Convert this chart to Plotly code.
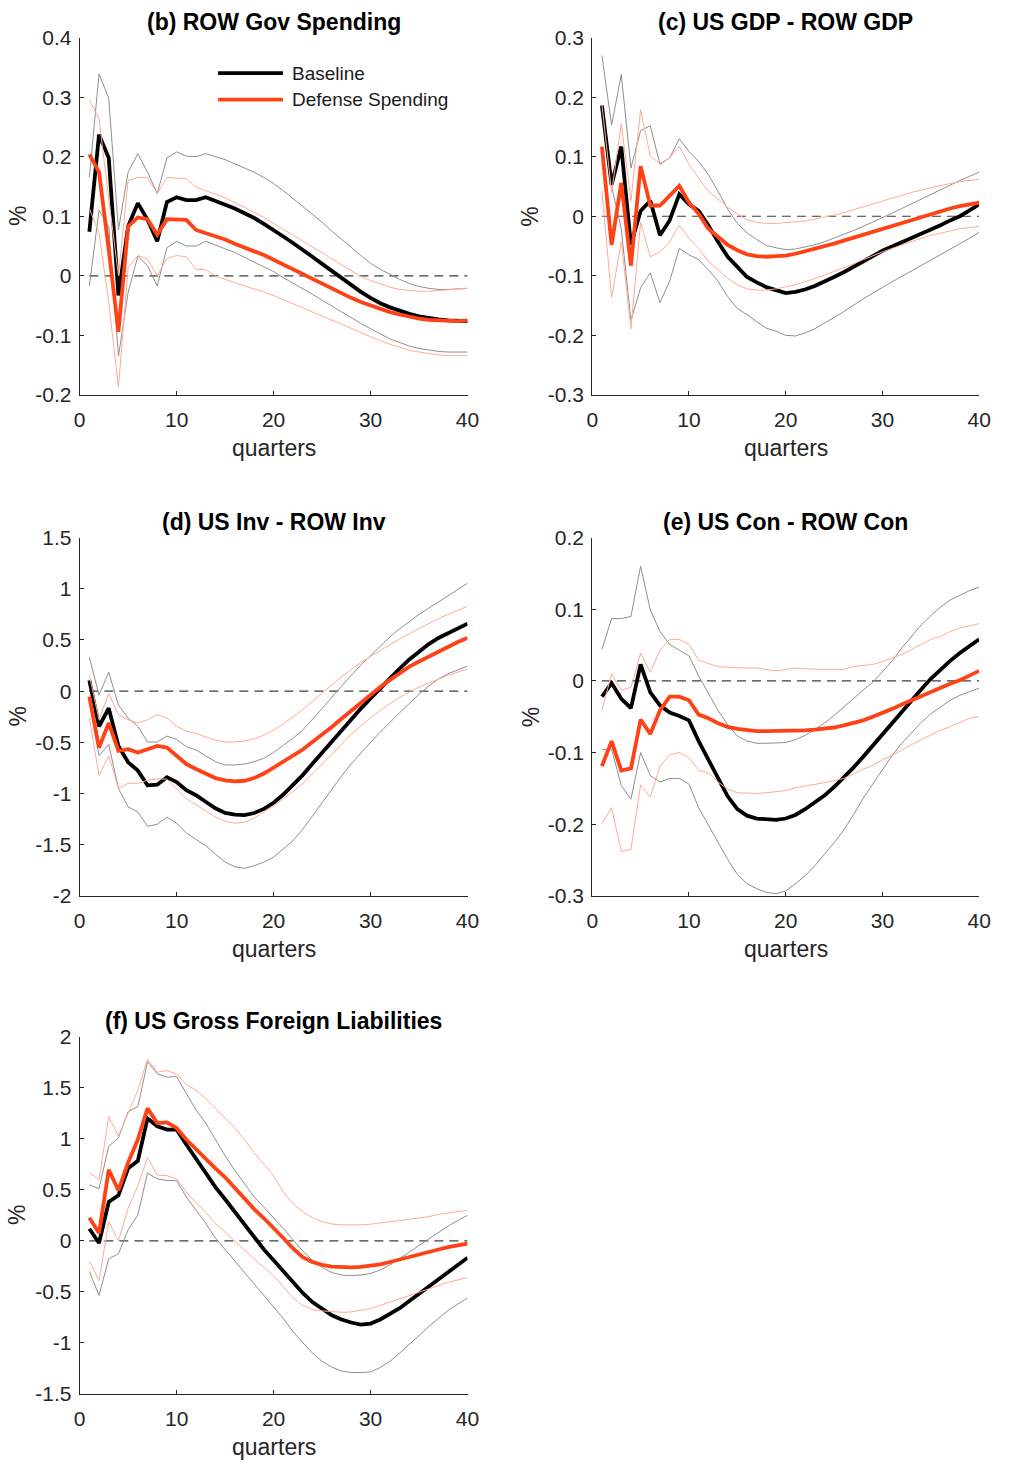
import plotly.graph_objects as go

# Target page size and the browser's default body margin around the figure
PAGE_W, PAGE_H = 1016, 1482
PAD = 8
W, H = PAGE_W - 2 * PAD, PAGE_H - 2 * PAD
FONT = "Liberation Sans, Arial, Helvetica, sans-serif"
AXIS_COLOR = "#262626"

quarters = list(range(1, 41))

# ---- (b) ROW Gov Spending ----
base_b = [0.074, 0.237, 0.198, -0.033, 0.083, 0.122, 0.094, 0.058, 0.124, 0.132,
          0.127, 0.127, 0.132, 0.126, 0.12, 0.113, 0.105, 0.097, 0.087, 0.077,
          0.066, 0.055, 0.044, 0.032, 0.02, 0.008, -0.004, -0.016, -0.027, -0.037,
          -0.046, -0.053, -0.059, -0.064, -0.068, -0.071, -0.073, -0.075, -0.076, -0.076]
base_lo_b = [-0.017, 0.11, 0.083, -0.135, -0.028, 0.033, 0.017, -0.017, 0.047, 0.058,
             0.05, 0.05, 0.058, 0.052, 0.046, 0.039, 0.031, 0.023, 0.016, 0.007,
             -0.003, -0.012, -0.022, -0.031, -0.041, -0.051, -0.061, -0.07, -0.08, -0.089,
             -0.098, -0.106, -0.112, -0.118, -0.122, -0.125, -0.127, -0.128, -0.128, -0.128]
base_hi_b = [0.165, 0.339, 0.298, 0.077, 0.174, 0.205, 0.174, 0.138, 0.198, 0.208,
             0.201, 0.2, 0.205, 0.2, 0.195, 0.188, 0.181, 0.174, 0.165, 0.155,
             0.143, 0.13, 0.117, 0.103, 0.09, 0.075, 0.062, 0.048, 0.034, 0.021,
             0.011, 0.002, -0.006, -0.013, -0.018, -0.021, -0.023, -0.023, -0.022, -0.021]
def_b = [0.204, 0.174, 0.044, -0.094, 0.083, 0.098, 0.095, 0.069, 0.095, 0.095,
         0.094, 0.077, 0.072, 0.066, 0.061, 0.054, 0.047, 0.041, 0.035, 0.027,
         0.019, 0.011, 0.003, -0.006, -0.014, -0.022, -0.03, -0.037, -0.044, -0.05,
         -0.056, -0.061, -0.065, -0.069, -0.072, -0.074, -0.075, -0.076, -0.076, -0.075]
def_lo_b = [0.113, 0.072, -0.044, -0.187, 0.014, 0.034, 0.028, 0.0, 0.029, 0.034,
            0.032, 0.011, 0.01, 0.0, -0.006, -0.012, -0.017, -0.022, -0.027, -0.033,
            -0.04, -0.047, -0.054, -0.061, -0.068, -0.075, -0.082, -0.089, -0.096, -0.103,
            -0.109, -0.115, -0.12, -0.125, -0.128, -0.131, -0.133, -0.134, -0.134, -0.134]
def_hi_b = [0.295, 0.264, 0.13, 0.0, 0.16, 0.165, 0.165, 0.138, 0.165, 0.164,
            0.163, 0.149, 0.143, 0.138, 0.131, 0.123, 0.115, 0.107, 0.098, 0.088,
            0.078, 0.068, 0.058, 0.048, 0.038, 0.028, 0.018, 0.008, -0.001, -0.008,
            -0.014, -0.019, -0.023, -0.025, -0.026, -0.026, -0.025, -0.024, -0.022, -0.021]

# ---- (c) US GDP - ROW GDP ----
base_c = [0.186, 0.053, 0.117, -0.048, 0.009, 0.026, -0.032, -0.007, 0.037, 0.02,
          0.009, -0.015, -0.043, -0.068, -0.085, -0.102, -0.111, -0.119, -0.124, -0.129,
          -0.127, -0.123, -0.117, -0.11, -0.102, -0.094, -0.085, -0.076, -0.067, -0.058,
          -0.051, -0.044, -0.036, -0.029, -0.022, -0.015, -0.007, 0.0, 0.01, 0.02]
base_lo_c = [0.18, 0.05, -0.021, -0.175, -0.12, -0.095, -0.145, -0.109, -0.054, -0.065,
             -0.073, -0.09, -0.109, -0.135, -0.155, -0.165, -0.177, -0.188, -0.193, -0.2,
             -0.201, -0.196, -0.189, -0.18, -0.17, -0.16, -0.149, -0.139, -0.129, -0.119,
             -0.11, -0.101, -0.092, -0.083, -0.074, -0.065, -0.056, -0.047, -0.037, -0.027]
base_hi_c = [0.27, 0.153, 0.238, 0.081, 0.144, 0.152, 0.087, 0.098, 0.13, 0.109,
             0.092, 0.07, 0.042, 0.012, -0.012, -0.028, -0.039, -0.049, -0.053, -0.056,
             -0.055, -0.052, -0.048, -0.043, -0.037, -0.031, -0.024, -0.017, -0.01, -0.003,
             0.005, 0.013, 0.021, 0.029, 0.037, 0.045, 0.053, 0.06, 0.067, 0.074]
def_c = [0.117, -0.048, 0.056, -0.083, 0.084, 0.018, 0.018, 0.034, 0.051, 0.023,
         0.004, -0.021, -0.035, -0.048, -0.057, -0.064, -0.067, -0.068, -0.067, -0.066,
         -0.063, -0.059, -0.055, -0.051, -0.046, -0.041, -0.036, -0.031, -0.026, -0.021,
         -0.016, -0.011, -0.006, -0.001, 0.004, 0.009, 0.013, 0.017, 0.02, 0.023]
def_lo_c = [0.042, -0.137, -0.043, -0.189, -0.01, -0.068, -0.06, -0.043, -0.015, -0.037,
            -0.054, -0.076, -0.09, -0.104, -0.115, -0.122, -0.124, -0.124, -0.122, -0.119,
            -0.115, -0.11, -0.105, -0.099, -0.093, -0.087, -0.08, -0.073, -0.066, -0.06,
            -0.054, -0.048, -0.042, -0.037, -0.032, -0.028, -0.024, -0.021, -0.019, -0.017]
def_hi_c = [0.188, 0.04, 0.155, 0.026, 0.179, 0.1, 0.089, 0.098, 0.117, 0.087,
            0.064, 0.042, 0.029, 0.015, 0.004, -0.006, -0.01, -0.012, -0.012, -0.011,
            -0.01, -0.008, -0.005, -0.002, 0.002, 0.006, 0.011, 0.016, 0.021, 0.026,
            0.031, 0.035, 0.04, 0.044, 0.048, 0.052, 0.055, 0.058, 0.06, 0.062]

# ---- (d) US Inv - ROW Inv ----
base_d = [0.106, -0.343, -0.167, -0.535, -0.695, -0.776, -0.92, -0.913, -0.84, -0.888,
          -0.968, -1.016, -1.08, -1.144, -1.19, -1.205, -1.21, -1.19, -1.15, -1.09,
          -1.01, -0.92, -0.82, -0.71, -0.6, -0.49, -0.38, -0.27, -0.17, -0.07,
          0.03, 0.13, 0.22, 0.31, 0.39, 0.46, 0.52, 0.57, 0.62, 0.66]
base_lo_d = [-0.1, -0.63, -0.52, -0.95, -1.13, -1.18, -1.32, -1.3, -1.23, -1.29,
             -1.385, -1.45, -1.51, -1.59, -1.67, -1.715, -1.73, -1.705, -1.67, -1.62,
             -1.54, -1.46, -1.35, -1.22, -1.08, -0.95, -0.83, -0.71, -0.6, -0.5,
             -0.4, -0.3, -0.21, -0.12, -0.03, 0.05, 0.12, 0.17, 0.21, 0.245]
base_hi_d = [0.33, -0.038, 0.186, -0.135, -0.263, -0.343, -0.497, -0.497, -0.439, -0.471,
             -0.542, -0.574, -0.631, -0.689, -0.721, -0.721, -0.712, -0.689, -0.655, -0.6,
             -0.53, -0.46, -0.38, -0.28, -0.17, -0.06, 0.05, 0.155, 0.255, 0.35,
             0.44, 0.53, 0.61, 0.68, 0.75, 0.81, 0.87, 0.93, 0.99, 1.055]
def_d = [-0.054, -0.551, -0.311, -0.583, -0.567, -0.6, -0.567, -0.535, -0.551, -0.631,
         -0.712, -0.76, -0.808, -0.849, -0.872, -0.881, -0.875, -0.849, -0.805, -0.75,
         -0.69, -0.63, -0.57, -0.5, -0.425, -0.35, -0.27, -0.19, -0.11, -0.035,
         0.04, 0.11, 0.18, 0.24, 0.29, 0.34, 0.39, 0.43, 0.48, 0.52]
def_lo_d = [-0.263, -0.824, -0.63, -0.95, -0.9, -0.9, -0.87, -0.855, -0.86, -0.96,
            -1.05, -1.11, -1.17, -1.23, -1.27, -1.29, -1.28, -1.24, -1.18, -1.12,
            -1.05, -0.98, -0.9, -0.81, -0.71, -0.62, -0.52, -0.42, -0.34, -0.26,
            -0.19, -0.12, -0.06, -0.01, 0.04, 0.08, 0.12, 0.155, 0.185, 0.215]
def_hi_d = [0.154, -0.28, -0.022, -0.23, -0.28, -0.31, -0.28, -0.23, -0.263, -0.343,
            -0.39, -0.413, -0.446, -0.478, -0.497, -0.497, -0.487, -0.465, -0.43, -0.38,
            -0.32, -0.25, -0.18, -0.1, -0.02, 0.06, 0.14, 0.21, 0.28, 0.34,
            0.4, 0.455, 0.51, 0.56, 0.61, 0.66, 0.71, 0.75, 0.79, 0.83]

# ---- (e) US Con - ROW Con ----
base_e = [-0.022, -0.003, -0.025, -0.038, 0.023, -0.016, -0.034, -0.044, -0.049, -0.055,
          -0.084, -0.11, -0.136, -0.161, -0.179, -0.188, -0.192, -0.193, -0.194, -0.192,
          -0.187, -0.179, -0.17, -0.16, -0.148, -0.135, -0.121, -0.106, -0.09, -0.074,
          -0.058, -0.042, -0.027, -0.012, 0.003, 0.016, 0.028, 0.039, 0.049, 0.058]
base_lo_e = [-0.096, -0.095, -0.146, -0.165, -0.1, -0.132, -0.141, -0.136, -0.136, -0.144,
             -0.177, -0.201, -0.226, -0.249, -0.27, -0.283, -0.29, -0.295, -0.297, -0.293,
             -0.283, -0.272, -0.258, -0.242, -0.226, -0.208, -0.187, -0.164, -0.144, -0.123,
             -0.104, -0.087, -0.072, -0.058, -0.046, -0.036, -0.027, -0.02, -0.015, -0.01]
base_hi_e = [0.044, 0.087, 0.087, 0.09, 0.16, 0.099, 0.069, 0.051, 0.043, 0.035,
             0.007, -0.018, -0.041, -0.061, -0.077, -0.084, -0.087, -0.087, -0.087, -0.086,
             -0.082, -0.076, -0.068, -0.059, -0.048, -0.036, -0.024, -0.013, -0.002, 0.013,
             0.028, 0.046, 0.062, 0.078, 0.091, 0.103, 0.113, 0.12, 0.126, 0.131]
def_e = [-0.119, -0.084, -0.125, -0.122, -0.054, -0.074, -0.041, -0.022, -0.022, -0.027,
         -0.047, -0.052, -0.059, -0.064, -0.067, -0.069, -0.07, -0.07, -0.07, -0.07,
         -0.07, -0.069, -0.068, -0.067, -0.065, -0.062, -0.059, -0.055, -0.05, -0.045,
         -0.039, -0.033, -0.027, -0.021, -0.015, -0.009, -0.004, 0.001, 0.007, 0.014]
def_lo_e = [-0.199, -0.177, -0.238, -0.235, -0.145, -0.162, -0.119, -0.103, -0.1, -0.107,
            -0.125, -0.128, -0.141, -0.151, -0.156, -0.157, -0.157, -0.156, -0.154, -0.153,
            -0.149, -0.147, -0.145, -0.142, -0.139, -0.136, -0.13, -0.123, -0.118, -0.11,
            -0.104, -0.096, -0.089, -0.082, -0.075, -0.069, -0.064, -0.058, -0.052, -0.05]
def_hi_e = [-0.041, 0.01, -0.013, -0.009, 0.039, 0.012, 0.043, 0.058, 0.058, 0.051,
            0.029, 0.024, 0.02, 0.019, 0.018, 0.018, 0.018, 0.016, 0.014, 0.016,
            0.018, 0.017, 0.016, 0.016, 0.016, 0.016, 0.02, 0.021, 0.023, 0.027,
            0.032, 0.037, 0.044, 0.051, 0.058, 0.062, 0.069, 0.074, 0.077, 0.08]

# ---- (f) US Gross Foreign Liabilities ----
base_f = [0.118, -0.021, 0.381, 0.446, 0.71, 0.784, 1.2, 1.121, 1.089, 1.089,
          0.944, 0.8, 0.671, 0.526, 0.407, 0.285, 0.163, 0.034, -0.085, -0.19,
          -0.3, -0.41, -0.51, -0.6, -0.67, -0.73, -0.77, -0.8, -0.82, -0.81,
          -0.77, -0.72, -0.66, -0.59, -0.52, -0.45, -0.38, -0.31, -0.24, -0.165]
base_lo_f = [-0.3, -0.535, -0.175, -0.127, 0.108, 0.253, 0.665, 0.607, 0.59, 0.59,
             0.43, 0.3, 0.172, 0.027, -0.085, -0.198, -0.31, -0.423, -0.535, -0.64,
             -0.76, -0.89, -1.0, -1.1, -1.18, -1.236, -1.275, -1.29, -1.29, -1.285,
             -1.24, -1.18, -1.1, -1.01, -0.92, -0.84, -0.76, -0.68, -0.62, -0.56]
base_hi_f = [0.549, 0.51, 0.928, 1.008, 1.266, 1.314, 1.755, 1.636, 1.603, 1.61,
             1.443, 1.282, 1.153, 0.992, 0.832, 0.69, 0.56, 0.43, 0.33, 0.23,
             0.12, 0.01, -0.1, -0.19, -0.26, -0.31, -0.335, -0.34, -0.335, -0.32,
             -0.285, -0.235, -0.175, -0.11, -0.045, 0.02, 0.085, 0.145, 0.2, 0.25]
def_f = [0.227, 0.076, 0.697, 0.494, 0.767, 0.992, 1.298, 1.153, 1.16, 1.105,
         0.992, 0.896, 0.8, 0.71, 0.623, 0.517, 0.414, 0.311, 0.221, 0.13,
         0.028, -0.075, -0.159, -0.207, -0.236, -0.252, -0.259, -0.259, -0.255, -0.246,
         -0.23, -0.207, -0.181, -0.159, -0.133, -0.107, -0.085, -0.062, -0.043, -0.027]
def_lo_f = [-0.197, -0.39, 0.188, 0.0, 0.317, 0.542, 0.815, 0.645, 0.639, 0.607,
            0.478, 0.382, 0.279, 0.172, 0.085, -0.005, -0.095, -0.181, -0.262, -0.342,
            -0.455, -0.558, -0.632, -0.673, -0.686, -0.696, -0.7, -0.696, -0.68, -0.664,
            -0.632, -0.6, -0.567, -0.535, -0.503, -0.471, -0.438, -0.406, -0.384, -0.358]
def_hi_f = [0.67, 0.6, 1.218, 1.025, 1.25, 1.475, 1.78, 1.652, 1.668, 1.636,
            1.533, 1.475, 1.395, 1.298, 1.2, 1.105, 0.992, 0.863, 0.751, 0.638,
            0.478, 0.365, 0.285, 0.227, 0.188, 0.166, 0.156, 0.153, 0.156, 0.163,
            0.172, 0.188, 0.198, 0.211, 0.227, 0.237, 0.259, 0.275, 0.291, 0.301]

# Panel titles and y-axis tick values
titles = ["(b) ROW Gov Spending", "(c) US GDP - ROW GDP", "(d) US Inv - ROW Inv",
          "(e) US Con - ROW Con", "(f) US Gross Foreign Liabilities"]
yticks_b = [-0.2, -0.1, 0, 0.1, 0.2, 0.3, 0.4]
yticks_c = [-0.3, -0.2, -0.1, 0, 0.1, 0.2, 0.3]
yticks_d = [-2, -1.5, -1, -0.5, 0, 0.5, 1, 1.5]
yticks_e = [-0.3, -0.2, -0.1, 0, 0.1, 0.2]
yticks_f = [-1.5, -1, -0.5, 0, 0.5, 1, 1.5, 2]
xticks = [0, 10, 20, 30, 40]

series = [
    (base_b, base_lo_b, base_hi_b, def_b, def_lo_b, def_hi_b),
    (base_c, base_lo_c, base_hi_c, def_c, def_lo_c, def_hi_c),
    (base_d, base_lo_d, base_hi_d, def_d, def_lo_d, def_hi_d),
    (base_e, base_lo_e, base_hi_e, def_e, def_lo_e, def_hi_e),
    (base_f, base_lo_f, base_hi_f, def_f, def_lo_f, def_hi_f),
]
yticks_all = [yticks_b, yticks_c, yticks_d, yticks_e, yticks_f]

# Plot-area boxes in page pixels: (left, right), (top, bottom)
COLS = [(83, 478), (605, 999)]
ROWS = [(34, 397), (542, 906), (1049, 1412)]
boxes = [(COLS[0], ROWS[0]), (COLS[1], ROWS[0]), (COLS[0], ROWS[1]),
         (COLS[1], ROWS[1]), (COLS[0], ROWS[2])]

BLACK = "#000000"
ORANGE = "#ff4216"
GREY_BAND = "#8f8f8f"
ORANGE_BAND = "#ffab94"


def px(x):
    """page x pixel -> paper fraction"""
    return (x - PAD) / W


def py(y):
    """page y pixel -> paper fraction"""
    return 1 - (y - PAD) / H


def fmt(v):
    return f"{v + 0.0:g}"


fig = go.Figure()
annotations = []

for i, ((x0, x1), (t, b)) in enumerate(boxes):
    n = "" if i == 0 else str(i + 1)
    xa, ya = "x" + n, "y" + n
    base, blo, bhi, dv, dlo, dhi = series[i]

    fig.add_trace(go.Scatter(x=[1, 40], y=[0, 0], mode="lines", xaxis=xa, yaxis=ya,
                             line=dict(color="#3c3c3c", width=1.2, dash="9px,6px"),
                             showlegend=False, hoverinfo="skip"))
    for band in (blo, bhi):
        fig.add_trace(go.Scatter(x=quarters, y=band, mode="lines", xaxis=xa, yaxis=ya,
                                 line=dict(color=GREY_BAND, width=1), showlegend=False))
    fig.add_trace(go.Scatter(x=quarters, y=base, mode="lines", xaxis=xa, yaxis=ya,
                             line=dict(color=BLACK, width=3.8), name="Baseline",
                             showlegend=False))
    for band in (dlo, dhi):
        fig.add_trace(go.Scatter(x=quarters, y=band, mode="lines", xaxis=xa, yaxis=ya,
                                 line=dict(color=ORANGE_BAND, width=1), showlegend=False))
    fig.add_trace(go.Scatter(x=quarters, y=dv, mode="lines", xaxis=xa, yaxis=ya,
                             line=dict(color=ORANGE, width=3.8), name="Defense Spending",
                             showlegend=False))

    yt = yticks_all[i]
    common = dict(showgrid=False, zeroline=False, showline=True, linecolor=AXIS_COLOR,
                  linewidth=1, ticks="inside", ticklen=4, tickwidth=1, tickcolor=AXIS_COLOR,
                  tickfont=dict(family=FONT, size=21, color=AXIS_COLOR), mirror=False)
    fig.update_layout(**{
        ("xaxis" + n): dict(domain=[px(x0), px(x1)], anchor=ya, range=[0, 40],
                            tickvals=xticks, ticktext=[fmt(v) for v in xticks],
                            ticklabelstandoff=6, **common),
        ("yaxis" + n): dict(domain=[py(b), py(t)], anchor=xa,
                            range=[yt[0], yt[-1]], tickvals=yt,
                            ticktext=[fmt(v) for v in yt], ticklabelstandoff=3, **common),
    })

    xc = px((x0 + x1) / 2)
    annotations.append(dict(text="<b>" + titles[i] + "</b>", x=xc, y=py(t - 16),
                            xref="paper", yref="paper", xanchor="center", yanchor="middle",
                            showarrow=False, font=dict(family=FONT, size=23, color="#000000")))
    annotations.append(dict(text="quarters", x=xc, y=py(b + 54),
                            xref="paper", yref="paper", xanchor="center", yanchor="middle",
                            showarrow=False, font=dict(family=FONT, size=23, color=AXIS_COLOR)))
    annotations.append(dict(text="%", x=px(x0 - 63), y=py((t + b) / 2),
                            xref="paper", yref="paper", xanchor="center", yanchor="middle",
                            textangle=-90, showarrow=False,
                            font=dict(family=FONT, size=23, color=AXIS_COLOR)))

# Legend inside panel (b)
legend_items = [("Baseline", BLACK, 70), ("Defense Spending", ORANGE, 97)]
shapes = []
for label, color, ypx in legend_items:
    shapes.append(dict(type="line", xref="paper", yref="paper",
                       x0=px(224), x1=px(290), y0=py(ypx), y1=py(ypx),
                       line=dict(color=color, width=3.8)))
    annotations.append(dict(text=label, x=px(297), y=py(ypx), xref="paper", yref="paper",
                            xanchor="left", yanchor="middle", showarrow=False,
                            font=dict(family=FONT, size=19, color="#1a1a1a")))

fig.update_layout(width=W, height=H, autosize=False,
                  margin=dict(l=0, r=0, t=0, b=0),
                  paper_bgcolor="white", plot_bgcolor="white",
                  showlegend=False, annotations=annotations, shapes=shapes,
                  font=dict(family=FONT))

fig.write_html("out.html")
